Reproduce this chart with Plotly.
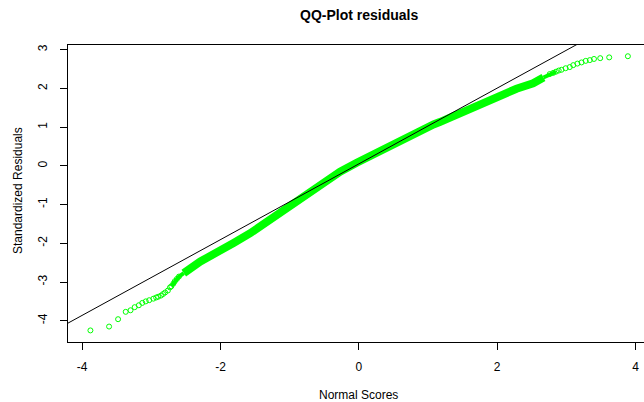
import plotly.graph_objects as go

# ---- data ----
# dense central body of the QQ plot (theoretical quantile, standardized residual)
band_x = [-2.53, -2.42, -2.29, -2.18, -2.05, -1.81, -1.57, -1.33,
          -1.09, -0.90, -0.75, -0.51, -0.37, -0.27, -0.03, 0.12, 0.36, 0.60,
          0.84, 1.08, 1.17, 1.32, 1.51, 1.66, 1.90, 2.14, 2.28, 2.52, 2.67]
band_y = [-2.77, -2.62, -2.47, -2.36, -2.25, -1.99, -1.74, -1.44,
          -1.14, -0.90, -0.69, -0.42, -0.25, -0.15, 0.08, 0.22, 0.44, 0.66,
          0.87, 1.07, 1.13, 1.25, 1.40, 1.53, 1.72, 1.88, 1.99, 2.13, 2.28]

# transition zones where the circles start to overlap into the band
left_join_x = [-2.71, -2.66, -2.60, -2.53]
left_join_y = [-3.11, -2.98, -2.86, -2.77]
right_join_x = [2.67, 2.76, 2.85]
right_join_y = [2.28, 2.36, 2.43]

# sparse lower tail points
left_x = [-3.88, -3.61, -3.48, -3.37, -3.30, -3.24, -3.18, -3.13, -3.08, -3.03,
          -2.97, -2.93, -2.90, -2.86, -2.83, -2.80, -2.76, -2.73, -2.71, -2.68,
          -2.66, -2.63, -2.60]
left_y = [-4.25, -4.15, -3.96, -3.77, -3.73, -3.65, -3.60, -3.54, -3.50, -3.47,
          -3.43, -3.40, -3.38, -3.35, -3.31, -3.27, -3.22, -3.14, -3.11, -3.04,
          -2.98, -2.92, -2.86]

# sparse upper tail points
right_x = [2.76, 2.81, 2.85, 2.89, 2.93, 2.99, 3.05, 3.10, 3.16, 3.22, 3.28, 3.34,
           3.40, 3.49, 3.62, 3.89]
right_y = [2.37, 2.40, 2.43, 2.46, 2.48, 2.52, 2.55, 2.60, 2.64, 2.67, 2.71, 2.73,
           2.76, 2.78, 2.80, 2.83]

# reference (qq) line
line_intercept = 0.05
line_slope = 0.978
line_x = [-5.0, 5.0]
line_y = [line_intercept + line_slope * v for v in line_x]

x_ticks = [-4, -2, 0, 2, 4]
y_ticks = [-4, -3, -2, -1, 0, 1, 2, 3]

GREEN = "#00FF00"
FONT = "Liberation Sans, Arial, sans-serif"

fig = go.Figure()

fig.add_trace(go.Scatter(
    x=band_x, y=band_y, mode="lines",
    line=dict(color=GREEN, width=8), hoverinfo="skip", showlegend=False))

for xs, ys in ((left_join_x, left_join_y), (right_join_x, right_join_y)):
    fig.add_trace(go.Scatter(
        x=xs, y=ys, mode="lines",
        line=dict(color=GREEN, width=4), hoverinfo="skip", showlegend=False))

for xs, ys in ((left_x, left_y), (right_x, right_y)):
    fig.add_trace(go.Scatter(
        x=xs, y=ys, mode="markers",
        marker=dict(symbol="circle-open", size=5, color=GREEN, line=dict(width=1, color=GREEN)),
        showlegend=False))

fig.add_trace(go.Scatter(
    x=line_x, y=line_y, mode="lines",
    line=dict(color="black", width=1), showlegend=False))

fig.update_layout(
    width=644, height=402,
    margin=dict(l=68, r=0, t=45, b=60),
    paper_bgcolor="white", plot_bgcolor="white",
    font=dict(family=FONT, size=12, color="black"),
    showlegend=False,
    xaxis=dict(range=[-4.204, 4.123], tickvals=x_ticks, ticktext=[str(v) for v in x_ticks],
               showgrid=False, zeroline=False, showline=True, linecolor="black", linewidth=1,
               mirror=True, ticks="outside", ticklen=7, tickcolor="black", tickwidth=1,
               ticklabelstandoff=7, tickfont=dict(size=12, family=FONT, color="black")),
    yaxis=dict(range=[-4.549, 3.12], tickvals=y_ticks, ticktext=[str(v) for v in y_ticks],
               showgrid=False, zeroline=False, showline=True, linecolor="black", linewidth=1,
               ticks="outside", ticklen=7, tickcolor="black", tickwidth=1, tickangle=-90,
               ticklabelstandoff=8, tickfont=dict(size=12, family=FONT, color="black")),
    annotations=[
        dict(text="<b>QQ-Plot residuals</b>", xref="x", x=0, yref="paper", y=1.101,
             xanchor="center", yanchor="middle", showarrow=False,
             font=dict(size=14, family=FONT, color="black")),
        dict(text="Normal Scores", xref="x", x=0, yref="paper", y=-0.177,
             xanchor="center", yanchor="middle", showarrow=False,
             font=dict(size=12, family=FONT, color="black")),
        dict(text="Standardized Residuals", xref="paper", x=-0.0877, yref="paper", y=0.51,
             xanchor="center", yanchor="middle", textangle=-90, showarrow=False,
             font=dict(size=12, family=FONT, color="black")),
    ],
)

fig.write_html("out.html")
